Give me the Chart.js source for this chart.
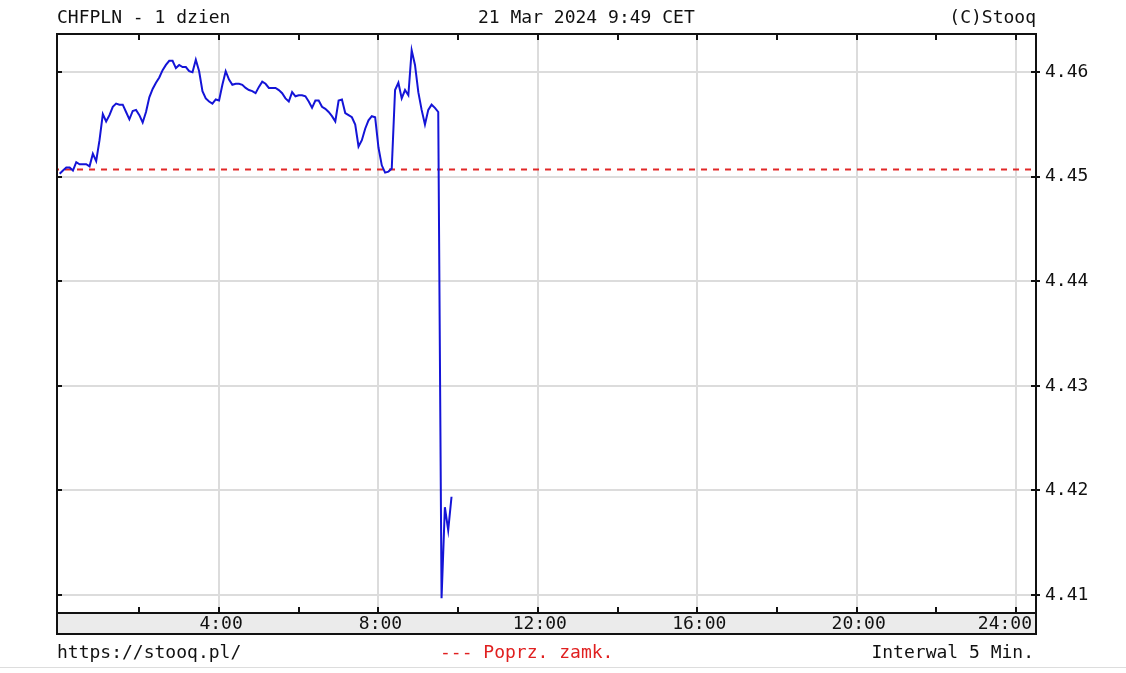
<!doctype html>
<html>
<head>
<meta http-equiv="Content-Type" content="text/html;charset=utf-8" />
<title>CHFPLN - 1 dzien</title>
<script src="https://cdn.jsdelivr.net/npm/chart.js@4.4.0/dist/chart.umd.min.js"></script>
<style>
html, body { margin: 0; padding: 0; background: #fff; }
#container { width: 1126px; height: 673px; position: relative; }
</style>
</head>
<body>

<div id="container">
<canvas id="myChart"></canvas>
</div>

<script type="text/javascript">
// CHFPLN intraday, 21 Mar 2024, one quote every 5 minutes starting 0:00
var startMin = 0;
var stepMin = 5;
var prices = [
  4.4503, 4.4506, 4.4509, 4.4509, 4.4506, 4.4514, 4.4512, 4.4512, 4.4512, 4.4510,
  4.4522, 4.4515, 4.4535, 4.4560, 4.4553, 4.4559, 4.4567, 4.4570, 4.4569, 4.4569,
  4.4562, 4.4555, 4.4563, 4.4564, 4.4559, 4.4552, 4.4562, 4.4576, 4.4584, 4.4590,
  4.4595, 4.4602, 4.4607, 4.4611, 4.4611, 4.4604, 4.4607, 4.4605, 4.4605, 4.4601,
  4.4600, 4.4612, 4.4601, 4.4582, 4.4575, 4.4572, 4.4570, 4.4574, 4.4573, 4.4588,
  4.4601, 4.4593, 4.4588, 4.4589, 4.4589, 4.4588, 4.4585, 4.4583, 4.4582, 4.4580,
  4.4586, 4.4591, 4.4589, 4.4585, 4.4585, 4.4585, 4.4583, 4.4580, 4.4575, 4.4572,
  4.4581, 4.4577, 4.4578, 4.4578, 4.4577, 4.4572, 4.4566, 4.4573, 4.4573, 4.4567,
  4.4565, 4.4562, 4.4558, 4.4553, 4.4573, 4.4574, 4.4561, 4.4559, 4.4557, 4.4550,
  4.4529, 4.4535, 4.4546, 4.4554, 4.4558, 4.4557, 4.4528, 4.4511, 4.4504, 4.4505,
  4.4508, 4.4583, 4.4590, 4.4575, 4.4583, 4.4578, 4.4621, 4.4607, 4.4581, 4.4564,
  4.4550, 4.4564, 4.4569, 4.4566, 4.4562, 4.4097, 4.4184, 4.4162, 4.4194
];
var prevClose = 4.4507;   // "Poprz. zamk."

var yTicks = [4.41, 4.42, 4.43, 4.44, 4.45, 4.46];
var hourTicks = [2, 4, 6, 8, 10, 12, 14, 16, 18, 20, 22, 24];
var hourLabels = ['4:00', '8:00', '12:00', '16:00', '20:00', '24:00'];
var labelHours = [4, 8, 12, 16, 20, 24];

var titleLeft = 'CHFPLN - 1 dzien';
var titleMid = '21 Mar 2024 9:49 CET';
var titleRight = '(C)Stooq';
var footLeft = 'https://stooq.pl/';
var footMid = '--- Poprz. zamk.';
var footRight = 'Interwal 5 Min.';

var points = prices.map(function (p, i) {
  return { x: startMin + i * stepMin, y: p };
});

var FONT = '18px "DejaVu Sans Mono", "Liberation Mono", monospace';

// frame, grey time band, inward tick marks, header and footer texts
var stooqFrame = {
  id: 'stooqFrame',
  afterDraw: function (chart) {
    var ctx = chart.ctx;
    var a = chart.chartArea;
    var xs = chart.scales.x;
    var ys = chart.scales.y;
    var bandBottom = xs.bottom;

    ctx.save();
    // time band
    ctx.fillStyle = '#ebebeb';
    ctx.fillRect(a.left, a.bottom, a.right - a.left, bandBottom - a.bottom);

    // frame
    ctx.strokeStyle = '#111';
    ctx.lineWidth = 2;
    ctx.strokeRect(a.left, a.top, a.right - a.left, bandBottom - a.top);
    ctx.beginPath();
    ctx.moveTo(a.left, a.bottom);
    ctx.lineTo(a.right, a.bottom);
    ctx.stroke();

    // x tick marks (top and bottom edge, inward)
    ctx.beginPath();
    hourTicks.forEach(function (h) {
      var px = Math.round(xs.getPixelForValue(h * 60));
      ctx.moveTo(px, a.top);
      ctx.lineTo(px, a.top + 6);
      ctx.moveTo(px, a.bottom);
      ctx.lineTo(px, a.bottom - 6);
    });
    // y tick marks
    yTicks.forEach(function (v) {
      var py = Math.round(ys.getPixelForValue(v));
      ctx.moveTo(a.left, py);
      ctx.lineTo(a.left + 5, py);
      ctx.moveTo(a.right - 5, py);
      ctx.lineTo(a.right + 4, py);
    });
    ctx.stroke();

    // time labels in the band
    ctx.font = FONT;
    ctx.fillStyle = '#111';
    ctx.textBaseline = 'middle';
    ctx.textAlign = 'left';
    var midBand = (a.bottom + bandBottom) / 2 + 1;
    labelHours.forEach(function (h, i) {
      var txt = hourLabels[i];
      var w = ctx.measureText(txt).width;
      var px = xs.getPixelForValue(h * 60);
      var x0 = Math.min(px - w / 2 + 2, a.right - 4 - w);
      ctx.fillText(txt, x0, midBand);
    });

    // header
    ctx.fillText(titleLeft, a.left, 18);
    ctx.fillText(titleMid, 478, 18);
    ctx.textAlign = 'right';
    ctx.fillText(titleRight, a.right, 18);

    // footer
    var fy = bandBottom + 19;
    ctx.textAlign = 'left';
    ctx.fillText(footLeft, a.left, fy);
    ctx.fillStyle = '#e02020';
    ctx.fillText(footMid, 440, fy);
    ctx.fillStyle = '#111';
    ctx.textAlign = 'right';
    ctx.fillText(footRight, a.right - 2, fy);

    // page separator
    ctx.fillStyle = '#dddddd';
    ctx.fillRect(0, chart.height - 6, chart.width, 1);
    ctx.restore();
  }
};

var ctx = document.getElementById('myChart').getContext('2d');
var chart = new Chart(ctx, {
  type: 'line',
  data: {
    datasets: [{
      label: 'CHFPLN',
      data: points,
      borderColor: 'rgb(20, 20, 215)',
      borderWidth: 2,
      pointRadius: 0,
      tension: 0,
      fill: false,
      order: 0
    }, {
      label: 'Poprz. zamk.',
      data: [{ x: -10, y: prevClose }, { x: 1480, y: prevClose }],
      borderColor: 'rgb(225, 40, 40)',
      borderWidth: 2,
      borderDash: [6, 6],
      pointRadius: 0,
      fill: false,
      order: 1
    }]
  },
  options: {
    responsive: true,
    maintainAspectRatio: false,
    animation: false,
    layout: { padding: { left: 57, top: 34, right: 0, bottom: 39 } },
    plugins: { legend: { display: false }, tooltip: { enabled: false } },
    scales: {
      x: {
        type: 'linear',
        min: -4,
        max: 1470,
        border: { display: false },
        afterBuildTicks: function (scale) {
          scale.ticks = hourTicks.map(function (h) { return { value: h * 60 }; });
        },
        afterFit: function (scale) { scale.height = 21; },
        grid: {
          drawTicks: false,
          lineWidth: 2,
          color: function (c) {
            var v = c.tick ? c.tick.value : 0;
            return (v > 0 && v % 240 === 0) ? '#dcdcdc' : 'rgba(0,0,0,0)';
          }
        },
        ticks: { display: false }
      },
      y: {
        position: 'right',
        min: 4.40828,
        max: 4.46366,
        border: { display: false },
        afterBuildTicks: function (scale) {
          scale.ticks = yTicks.map(function (v) { return { value: v }; });
        },
        afterFit: function (scale) { scale.width = 90; },
        grid: { drawTicks: false, lineWidth: 2, color: '#dcdcdc' },
        ticks: {
          padding: 9,
          color: '#111',
          font: { family: '"DejaVu Sans Mono", "Liberation Mono", monospace', size: 18 },
          callback: function (v) { return Number(v).toFixed(2); }
        }
      }
    }
  },
  plugins: [stooqFrame]
});
</script>

</body>
</html>
